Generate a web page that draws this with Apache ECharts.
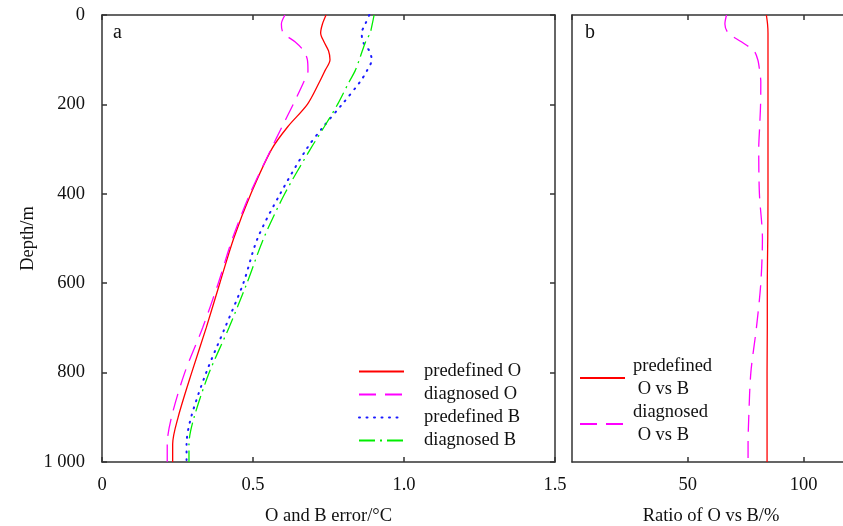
<!DOCTYPE html>
<html>
<head>
<meta charset="utf-8">
<script src="https://cdn.jsdelivr.net/npm/echarts@6/dist/echarts.min.js"></script>
<style>
html, body { margin: 0; padding: 0; background: #fff; }
#main { width: 843px; height: 526px; }
</style>
</head>
<body>
<div id="main"></div>
<script>
// depth levels (m), shared by every profile
var depth = [0, 20, 40, 60, 80, 100, 125, 150, 200, 250, 300, 400, 500, 600, 700, 800, 900, 960, 1000];
// panel a: error (°C)
var predefinedO = [0.742, 0.730, 0.724, 0.735, 0.750, 0.755, 0.738, 0.720, 0.680, 0.615, 0.562, 0.493, 0.436, 0.390, 0.345, 0.297, 0.252, 0.234, 0.234];
var diagnosedO  = [0.606, 0.594, 0.600, 0.639, 0.668, 0.680, 0.682, 0.668, 0.633, 0.596, 0.560, 0.490, 0.432, 0.385, 0.333, 0.274, 0.230, 0.216, 0.216];
var predefinedB = [0.885, 0.872, 0.860, 0.864, 0.885, 0.893, 0.877, 0.854, 0.795, 0.733, 0.677, 0.590, 0.515, 0.468, 0.407, 0.345, 0.295, 0.280, 0.280];
var diagnosedB  = [0.901, 0.895, 0.888, 0.873, 0.862, 0.852, 0.838, 0.818, 0.780, 0.736, 0.690, 0.605, 0.535, 0.480, 0.420, 0.355, 0.305, 0.288, 0.288];
// panel b: ratio O vs B (%)
var ratioPredef = [83.9, 84.4, 84.6, 84.6, 84.6, 84.6, 84.6, 84.6, 84.6, 84.6, 84.6, 84.6, 84.5, 84.3, 84.3, 84.2, 84.2, 84.2, 84.2];
var ratioDiag   = [66.7, 66.0, 67.4, 73.1, 78.5, 80.2, 81.0, 81.5, 81.4, 81.0, 80.6, 80.9, 82.2, 81.5, 79.6, 77.2, 76.3, 76.0, 76.0];
// tick labels
var depthTicks = ['0', '200', '400', '600', '800', '1 000'];
var errTicks = ['0', '0.5', '1.0', '1.5'];

var font = 'Liberation Serif';
var axisCol = '#333';
var fs = 18.5;

function pairs(vals) {
  return vals.map(function (v, i) { return [v, depth[i]]; });
}

var chart = echarts.init(document.getElementById('main'));

// frame lines stay on their own side (no onZero jumping)
function frameLine() { return { show: true, onZero: false, lineStyle: { color: axisCol, width: 1.5 } }; }
function inTick() { return { show: true, inside: true, length: 5, lineStyle: { color: axisCol, width: 1.5 } }; }

var option = {
  animation: false,
  backgroundColor: '#fff',
  title: [
    { text: 'a', left: 113, top: 23, padding: 0, textStyle: { fontFamily: font, fontSize: 20, fontWeight: 'normal', color: '#111' } },
    { text: 'b', left: 585, top: 23, padding: 0, textStyle: { fontFamily: font, fontSize: 20, fontWeight: 'normal', color: '#111' } }
  ],
  grid: [
    { left: 102, top: 15, width: 453, height: 447, outerBoundsMode: 'none' },
    { left: 572, top: 15, width: 278, height: 447, outerBoundsMode: 'none' }
  ],
  legend: [
    {
      orient: 'vertical', left: 358, top: 360, padding: 0, itemWidth: 45, itemHeight: 14, itemGap: 0,
      selectedMode: false, itemStyle: { opacity: 0 },
      data: ['predefined O', 'diagnosed O', 'predefined B', 'diagnosed B'],
      textStyle: { fontFamily: font, fontSize: fs, color: '#111', lineHeight: 23, padding: [0, 0, 0, 15] }
    },
    {
      orient: 'vertical', left: 579, top: 355, padding: 0, itemWidth: 45, itemHeight: 14, itemGap: 0,
      selectedMode: false, itemStyle: { opacity: 0 },
      data: ['predefined\n O vs B', 'diagnosed\n O vs B'],
      textStyle: { fontFamily: font, fontSize: fs, color: '#111', lineHeight: 23, padding: [0, 0, 0, 3] }
    }
  ],
  xAxis: [
    {
      gridIndex: 0, type: 'value', position: 'bottom', min: 0, max: 1.5, interval: 0.5,
      axisLine: frameLine(), axisTick: inTick(), splitLine: { show: false },
      axisLabel: {
        margin: 14, fontFamily: font, fontSize: fs, color: '#111',
        formatter: function (v) { return errTicks[Math.round(v / 0.5)]; }
      },
      name: 'O and B error/\u00b0C', nameLocation: 'middle', nameGap: 45, nameMoveOverlap: false,
      nameTextStyle: { fontFamily: font, fontSize: fs, color: '#111' }
    },
    {
      gridIndex: 0, type: 'value', position: 'top', min: 0, max: 1.5, interval: 0.5,
      axisLine: frameLine(), axisTick: inTick(), splitLine: { show: false }, axisLabel: { show: false }
    },
    {
      gridIndex: 1, type: 'value', position: 'bottom', min: 0, max: 120, interval: 50,
      axisLine: frameLine(), axisTick: inTick(), splitLine: { show: false },
      axisLabel: {
        margin: 14, fontFamily: font, fontSize: fs, color: '#111', showMinLabel: false,
        formatter: function (v) { return v === 0 || v > 100 ? '' : String(v); }
      },
      name: 'Ratio of O vs B/%', nameLocation: 'middle', nameGap: 45, nameMoveOverlap: false,
      nameTextStyle: { fontFamily: font, fontSize: fs, color: '#111' }
    },
    {
      gridIndex: 1, type: 'value', position: 'top', min: 0, max: 120, interval: 50,
      axisLine: frameLine(), axisTick: inTick(), splitLine: { show: false }, axisLabel: { show: false }
    }
  ],
  yAxis: [
    {
      gridIndex: 0, type: 'value', position: 'left', inverse: true, min: 0, max: 1000, interval: 200,
      axisLine: frameLine(), axisTick: inTick(), splitLine: { show: false },
      axisLabel: {
        margin: 17, fontFamily: font, fontSize: fs, color: '#111',
        formatter: function (v) { return depthTicks[Math.round(v / 200)]; }
      },
      name: 'Depth/m', nameLocation: 'middle', nameGap: 64, nameRotate: 90, nameMoveOverlap: false,
      nameTextStyle: { fontFamily: font, fontSize: fs, color: '#111' }
    },
    {
      gridIndex: 0, type: 'value', position: 'right', inverse: true, min: 0, max: 1000, interval: 200,
      axisLine: frameLine(), axisTick: inTick(), splitLine: { show: false }, axisLabel: { show: false }
    },
    {
      gridIndex: 1, type: 'value', position: 'left', inverse: true, min: 0, max: 1000, interval: 200,
      axisLine: frameLine(), axisTick: { show: false }, splitLine: { show: false }, axisLabel: { show: false }
    }
  ],
  series: [
    {
      name: 'predefined O', type: 'line', xAxisIndex: 0, yAxisIndex: 0, data: pairs(predefinedO),
      symbol: 'none', smooth: 0.3, color: '#ff0000', lineStyle: { color: '#ff0000', width: 1.3 }
    },
    {
      name: 'diagnosed O', type: 'line', xAxisIndex: 0, yAxisIndex: 0, data: pairs(diagnosedO),
      symbol: 'none', smooth: 0.3, color: '#ff00ff', lineStyle: { color: '#ff00ff', width: 1.3, type: [17, 9] }
    },
    {
      name: 'predefined B', type: 'line', xAxisIndex: 0, yAxisIndex: 0, data: pairs(predefinedB),
      symbol: 'none', smooth: 0.3, color: '#1a1aff', lineStyle: { color: '#1a1aff', width: 2, cap: 'round', type: [1, 6.5] }
    },
    {
      name: 'diagnosed B', type: 'line', xAxisIndex: 0, yAxisIndex: 0, data: pairs(diagnosedB),
      symbol: 'none', smooth: 0.3, color: '#00ee00', lineStyle: { color: '#00ee00', width: 1.3, type: [16, 5, 2, 5] }
    },
    {
      name: 'predefined\n O vs B', type: 'line', xAxisIndex: 2, yAxisIndex: 2, data: pairs(ratioPredef),
      symbol: 'none', smooth: 0.3, color: '#ff0000', lineStyle: { color: '#ff0000', width: 1.3 }
    },
    {
      name: 'diagnosed\n O vs B', type: 'line', xAxisIndex: 2, yAxisIndex: 2, data: pairs(ratioDiag),
      symbol: 'none', smooth: 0.3, color: '#ff00ff', lineStyle: { color: '#ff00ff', width: 1.3, type: [17, 9] }
    }
  ]
};

chart.setOption(option);
</script>
</body>
</html>
